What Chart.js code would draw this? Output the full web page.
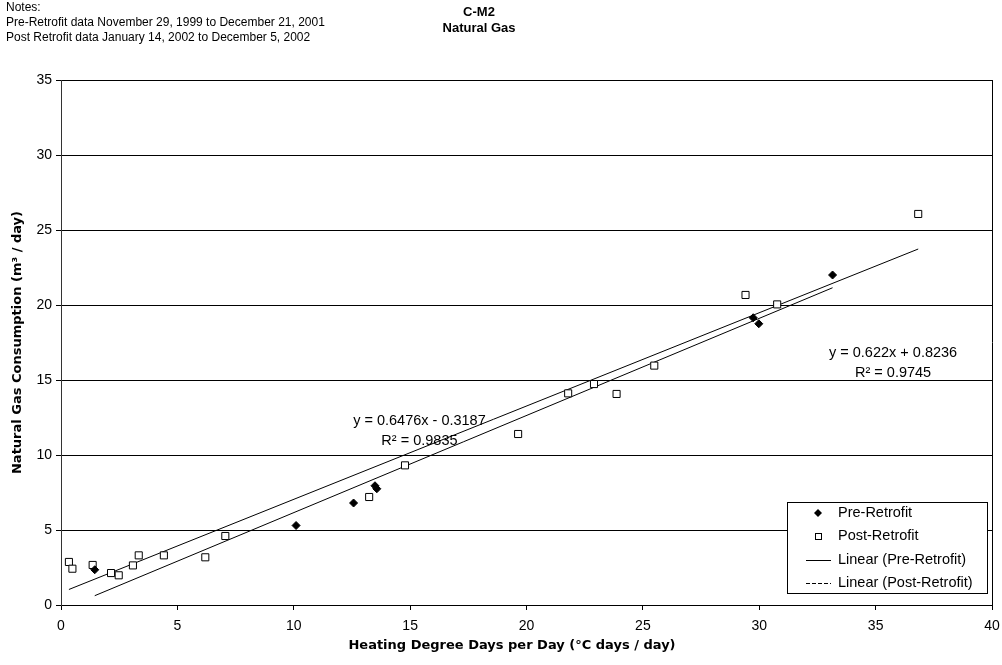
<!DOCTYPE html>
<html>
<head>
<meta charset="utf-8">
<script src="https://cdn.jsdelivr.net/npm/chart.js@4.4.0/dist/chart.umd.min.js"></script>
<style>
  html, body { margin: 0; padding: 0; background: #fff; }
  #wrap { width: 1002px; height: 665px; }
</style>
</head>
<body>
<div id="wrap"><canvas id="chart" width="1002" height="665"></canvas></div>
<script>
// heating degree days per day (x) vs natural gas use m3/day (y)
const preX = [1.45, 10.1, 12.57, 13.49, 13.57, 29.74, 29.98, 33.15];
const preY = [2.35, 5.3, 6.8, 7.95, 7.75, 19.15, 18.75, 22.0];
const postX = [0.34, 0.49, 1.36, 2.15, 2.48, 3.09, 3.34, 4.42, 6.2, 7.06,
  13.24, 14.78, 19.64, 21.79, 22.9, 23.87, 25.49, 29.41, 30.77, 36.83];
const postY = [2.87, 2.42, 2.67, 2.13, 1.98, 2.64, 3.31, 3.31, 3.18, 4.6,
  7.2, 9.31, 11.4, 14.11, 14.73, 14.07, 15.96, 20.67, 20.04, 26.07];

// trendline: slope, intercept, r squared (from the chart labels)
const preFit = [0.6476, -0.3187, 0.9835];
const postFit = [0.622, 0.8236, 0.9745];

const xTicks = [0, 5, 10, 15, 20, 25, 30, 35, 40];
const yTicks = [0, 5, 10, 15, 20, 25, 30, 35];
const seriesNames = ["Pre-Retrofit", "Post-Retrofit", "Linear (Pre-Retrofit)", "Linear (Post-Retrofit)"];
const notes = ["Notes:", "Pre-Retrofit data November 29, 1999 to December 21, 2001", "Post Retrofit data January 14, 2002 to December 5, 2002"];
const titleLines = ["C-M2", "Natural Gas"];
const xTitle = "Heating Degree Days per Day (\u00b0C days / day)";
const yTitle = "Natural Gas Consumption (m\u00b3 / day)";

const FONT = "'Liberation Sans', Arial, sans-serif";
const BOLDFONT = "'DejaVu Sans', Verdana, sans-serif";

function toPoints(xs, ys) {
  return xs.map((x, i) => ({ x: x, y: ys[i] }));
}
// line from first to last x of the series
function fitLine(xs, fit) {
  const lo = Math.min(...xs), hi = Math.max(...xs);
  return [lo, hi].map(x => ({ x: x, y: fit[0] * x + fit[1] }));
}
function eqText(fit) {
  const sign = fit[1] < 0 ? "-" : "+";
  return "y = " + fit[0] + "x " + sign + " " + Math.abs(fit[1]);
}

// notes, title, x title, frame, equations, legend
const extras = {
  id: "extras",
  afterDraw(chart) {
    const ctx = chart.ctx;
    const a = chart.chartArea;
    const xs = chart.scales.x, ys = chart.scales.y;
    ctx.save();
    ctx.fillStyle = "#000";
    ctx.textBaseline = "middle";

    ctx.font = "12px " + FONT;
    ctx.textAlign = "left";
    notes.forEach((t, i) => ctx.fillText(t, 6, 8 + i * 15));

    ctx.font = "bold 13px " + FONT;
    ctx.textAlign = "center";
    titleLines.forEach((t, i) => ctx.fillText(t, 479, 12 + i * 16));

    ctx.font = "bold 13px " + BOLDFONT;
    ctx.fillText(xTitle, 512, 646);

    // right frame edge
    ctx.strokeStyle = "#000";
    ctx.lineWidth = 1;
    ctx.beginPath();
    ctx.moveTo(Math.round(a.right) + 0.5, a.top);
    ctx.lineTo(Math.round(a.right) + 0.5, a.bottom);
    ctx.stroke();

    // trendline equations
    ctx.font = "14.5px " + FONT;
    const labels = [[preFit, 15.4, 12.3], [postFit, 35.75, 16.8]];
    labels.forEach(([fit, lx, ly]) => {
      const px = xs.getPixelForValue(lx), py = ys.getPixelForValue(ly);
      ctx.fillText(eqText(fit), px, py);
      ctx.fillText("R\u00b2 = " + fit[2], px, py + 20);
    });

    // legend box
    const bl = a.right - 205, bt = a.bottom - 103, bw = 200, bh = 91;
    ctx.fillStyle = "#fff";
    ctx.fillRect(bl, bt, bw, bh);
    ctx.strokeRect(Math.round(bl) + 0.5, Math.round(bt) + 0.5, bw, bh);
    ctx.fillStyle = "#000";
    ctx.textAlign = "left";
    seriesNames.forEach((name, i) => {
      const ry = bt + 11 + i * 23.3;
      const mx = bl + 31;
      if (i === 0) {
        ctx.beginPath();
        ctx.moveTo(mx, ry - 4); ctx.lineTo(mx + 4, ry); ctx.lineTo(mx, ry + 4); ctx.lineTo(mx - 4, ry);
        ctx.closePath(); ctx.fill();
      } else if (i === 1) {
        ctx.strokeRect(Math.round(mx - 3) + 0.5, Math.round(ry - 3) + 0.5, 6, 6);
      } else {
        ctx.setLineDash(i === 3 ? [4, 2] : []);
        ctx.beginPath();
        ctx.moveTo(bl + 19, Math.round(ry) + 0.5);
        ctx.lineTo(bl + 44, Math.round(ry) + 0.5);
        ctx.stroke();
        ctx.setLineDash([]);
      }
      ctx.fillText(name, bl + 51, ry);
    });
    ctx.restore();
  }
};

new Chart(document.getElementById("chart"), {
  type: "scatter",
  data: {
    datasets: [
      {
        label: seriesNames[0],
        data: toPoints(preX, preY),
        pointStyle: "rectRot",
        pointRadius: 4,
        backgroundColor: "#000",
        borderColor: "#000",
        borderWidth: 1,
      },
      {
        label: seriesNames[1],
        data: toPoints(postX, postY),
        pointStyle: "rect",
        pointRadius: 5,
        backgroundColor: "#fff",
        borderColor: "#000",
        borderWidth: 1,
      },
      {
        label: seriesNames[2],
        data: fitLine(preX, preFit),
        showLine: true,
        pointRadius: 0,
        borderColor: "#000",
        borderWidth: 1,
      },
      {
        label: seriesNames[3],
        data: fitLine(postX, postFit),
        showLine: true,
        pointRadius: 0,
        borderColor: "#000",
        borderWidth: 1,
      },
    ],
  },
  options: {
    responsive: false,
    animation: false,
    devicePixelRatio: 1,
    layout: { padding: { top: 80, right: 10, bottom: 0, left: 0 } },
    plugins: {
      legend: { display: false },
      tooltip: { enabled: false },
    },
    scales: {
      x: {
        type: "linear",
        min: 0,
        max: 40,
        afterBuildTicks: (s) => { s.ticks = xTicks.map(v => ({ value: v })); },
        afterFit: (s) => { s.height = 60; s.paddingLeft = 0; s.paddingRight = 0; },
        ticks: { color: "#000", padding: 8, font: { family: FONT, size: 14 } },
        grid: { drawOnChartArea: false, color: "#000", tickLength: 5 },
        border: { color: "#000" },
      },
      y: {
        min: 0,
        max: 35,
        afterBuildTicks: (s) => { s.ticks = yTicks.map(v => ({ value: v })); },
        afterFit: (s) => { s.width = 61; s.paddingTop = 0; s.paddingBottom = 0; },
        ticks: { color: "#000", padding: 4, font: { family: FONT, size: 14 } },
        grid: { color: "#000", tickLength: 5 },
        border: { color: "#333" },
        title: {
          display: true,
          text: yTitle,
          color: "#000",
          font: { family: BOLDFONT, size: 13, weight: "bold" },
          padding: { top: 10, bottom: 0 },
        },
      },
    },
  },
  plugins: [extras],
});
</script>
</body>
</html>
